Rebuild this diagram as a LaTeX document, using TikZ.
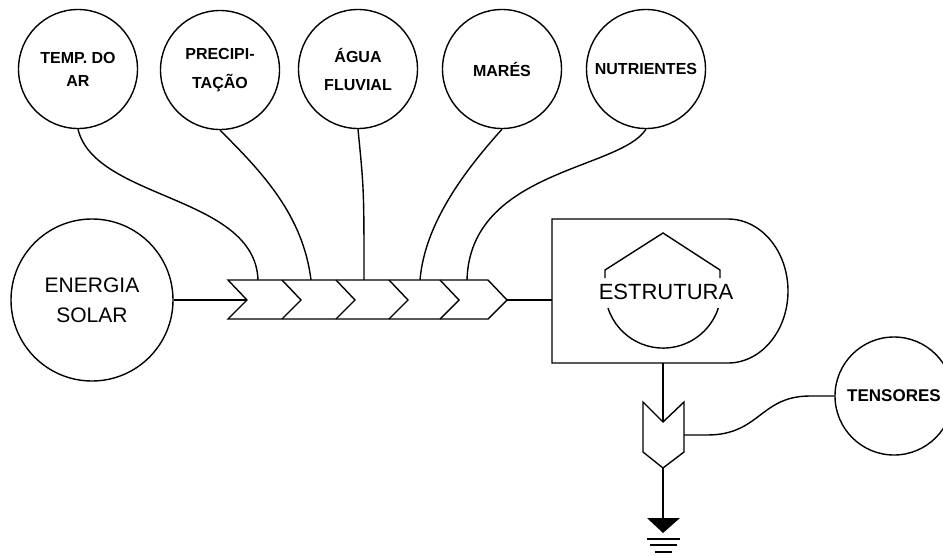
\documentclass[tikz,border=0pt]{standalone}
\usepackage{fontspec}
\setmainfont{Liberation Sans}
\begin{document}
\begin{tikzpicture}[x=1pt,y=1pt,yscale=-1,line width=1.4pt,
  src/.style={circle,draw,inner sep=0pt,minimum size=119pt,align=center},
  smalltxt/.style={font=\fontsize{16}{24}\selectfont\bfseries},
  bigtxt/.style={font=\fontsize{21}{30}\selectfont},
  wire/.style={line width=1.4pt}]
\useasboundingbox (0,0) rectangle (943,555);

% source circles
\node[src,smalltxt,font=\fontsize{16}{23}\selectfont\bfseries] (temp) at (78,69) {TEMP. DO\\AR};
\node[src,smalltxt,font=\fontsize{16}{29}\selectfont\bfseries] (prec) at (220,70) {PRECIPI-\\TAÇÃO};
\node[src,smalltxt,font=\fontsize{16}{28}\selectfont\bfseries] (agua) at (358,69) {ÁGUA\\FLUVIAL};
\node[src,smalltxt] (mares) at (502,69) {MARÉS};
\node[src,smalltxt] (nutr) at (646,69) {NUTRIENTES};
\node[src,bigtxt,minimum size=162pt] (sol) at (92,300) {ENERGIA\\SOLAR};
\node[src,font=\fontsize{17}{20}\selectfont\bfseries,minimum size=118pt] (tens) at (894,396) {TENSORES};

% chevron band (interaction)
\draw (228,280) -- (488,280) -- (507,300) -- (488,319) -- (228,319) -- (247,300) -- cycle;
\foreach \cx in {282,336,389,440}
  \draw (\cx,280) -- (\cx+19,300) -- (\cx,319);
\coordinate (bandin) at (247,300);
\coordinate (bandout) at (507,300);
\coordinate (b1) at (258,280);
\coordinate (b2) at (311,280);
\coordinate (b3) at (364,280);
\coordinate (b4) at (420,280);
\coordinate (b5) at (467,280);

% storage / producer box
\draw (552,219) -- (728,219) arc[start angle=-90,end angle=90,x radius=60,y radius=72] -- (552,363) -- cycle;
\coordinate (boxW) at (552,300);
\coordinate (boxS) at (663,363);
\draw (605,278) -- (605,270) -- (663,233) -- (720,270) -- (720,278);
\draw (608,308) arc[start angle=162,end angle=18,radius=58];
\node[font=\fontsize{22}{24}\selectfont,inner sep=0pt] (estr) at (666,292) {ESTRUTURA};

% downward chevron and ground
\draw (643,402) -- (663,422) -- (684,402) -- (684,452) -- (663,468) -- (643,452) -- cycle;
\coordinate (dnotch) at (663,422);
\coordinate (dtip) at (663,468);
\coordinate (dright) at (684,435);
\coordinate (gnd) at (663,518);
\fill (647,518) -- (680,518) -- (663,533) -- cycle;
\draw (647,539) -- (680,539);
\draw (650,545) -- (677,545);
\draw (655,552) -- (672,552);

% connectors
\draw[wire] (temp.south) .. controls (95,200) and (255,195) .. (b1);
\draw[wire] (prec.south) .. controls (262,172) and (303,215) .. (b2);
\draw[wire] (agua.south) .. controls (364,190) .. (b3);
\draw[wire] (mares.south) .. controls (470,165) and (425,220) .. (b4);
\draw[wire] (nutr.south) .. controls (620,170) and (470,170) .. (b5);
\draw[wire] (sol.east) -- (bandin);
\draw[wire] (bandout) -- (boxW);
\draw[wire] (boxS) -- (dnotch);
\draw[wire] (dtip) -- (gnd);
\coordinate (t1) at (707,435);
\coordinate (t2) at (810,396);
\draw[wire] (dright) -- (t1) .. controls (760,435) and (760,396) .. (t2) -- (tens.west);
\end{tikzpicture}
\end{document}
